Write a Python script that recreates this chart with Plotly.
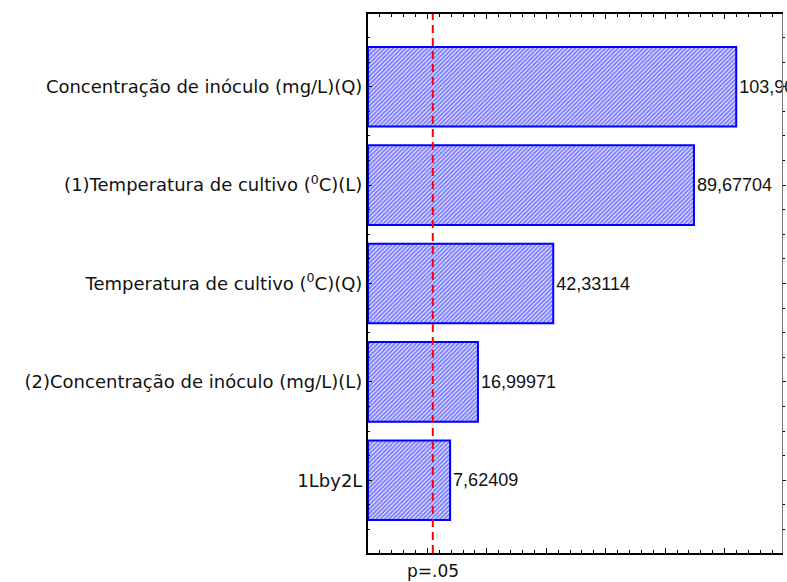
import plotly.graph_objects as go

# Pareto chart of standardized effects (absolute t values)
effects = [
    "Concentração de inóculo (mg/L)(Q)",
    "(1)Temperatura de cultivo (<sup>0</sup>C)(L)",
    "Temperatura de cultivo (<sup>0</sup>C)(Q)",
    "(2)Concentração de inóculo (mg/L)(L)",
    "1Lby2L",
]
t_values = [103.9, 89.67704, 42.33114, 16.99971, 7.62409]
t_crit = 1.8          # p = .05 significance threshold
p_label = "p=.05"

x_min, x_max = -20, 119.3   # effect axis; bars grow from its left edge

positions = list(range(len(effects)))
labels = [f"{v:.5f}".replace(".", ",") for v in t_values]

LABEL_FONT = "DejaVu Sans, sans-serif"
VALUE_FONT = "Liberation Sans, Arial, sans-serif"

fig = go.Figure()
fig.add_trace(go.Bar(
    x=[v - x_min for v in t_values],
    base=x_min,
    y=positions,
    orientation="h",
    width=0.81,
    marker=dict(
        color="white",
        line=dict(color="#0000ff", width=2),
        pattern=dict(shape="/", fgcolor="#0000ff", bgcolor="white",
                     size=3, solidity=0.7),
    ),
    text=labels,
    textposition="outside",
    textfont=dict(family=VALUE_FONT, size=18, color="#111111"),
    cliponaxis=False,
    showlegend=False,
))

# invisible companion trace so the right-hand axis is drawn
fig.add_trace(go.Scatter(x=[None], y=[None], yaxis="y2", showlegend=False,
                         hoverinfo="skip"))

y_range = [len(effects) - 1 + 0.74, -0.74]
minor_y = [p + d for p in positions for d in (-0.5, -0.25, 0.25, 0.5)]

fig.update_layout(
    width=787, height=582,
    margin=dict(l=368, r=2, t=14, b=29),
    paper_bgcolor="white",
    plot_bgcolor="white",
    font=dict(family=LABEL_FONT, size=18, color="#111111"),
    xaxis=dict(
        range=[x_min, x_max],
        showgrid=False, zeroline=False,
        showline=True, linecolor="black", linewidth=2,
        mirror="ticks",
        ticks="inside", tickmode="linear", tick0=0, dtick=20,
        ticklen=5, tickwidth=1, tickcolor="black",
        minor=dict(ticks="inside", tickmode="linear", tick0=0, dtick=4,
                   ticklen=3, tickwidth=1, tickcolor="black", showgrid=False),
        showticklabels=False,
    ),
    yaxis=dict(
        range=y_range,
        showgrid=False, zeroline=False,
        showline=True, linecolor="black", linewidth=2,
        ticks="inside", tickmode="array", tickvals=positions, ticktext=effects,
        ticklen=4, tickwidth=1, tickcolor="black",
        minor=dict(ticks="inside", tickmode="array", tickvals=minor_y,
                   ticklen=2, tickwidth=1, tickcolor="black", showgrid=False),
        tickfont=dict(family=LABEL_FONT, size=18, color="#111111"),
    ),
    yaxis2=dict(
        overlaying="y", side="right", range=y_range,
        showgrid=False, zeroline=False,
        showline=True, linecolor="#777777", linewidth=1,
        ticks="outside", tickmode="array", tickvals=positions,
        ticklen=3, tickwidth=1, tickcolor="black",
        minor=dict(ticks="outside", tickmode="array", tickvals=minor_y,
                   ticklen=2, tickwidth=1, tickcolor="black", showgrid=False),
        showticklabels=False,
    ),
    shapes=[dict(
        type="line", xref="x", yref="paper",
        x0=t_crit, x1=t_crit, y0=0, y1=1,
        line=dict(color="#ff0000", width=2, dash="8px,5px"),
    )],
    annotations=[dict(
        x=t_crit, y=0, xref="x", yref="paper",
        text=p_label, showarrow=False,
        xanchor="center", yanchor="top", yshift=-6,
        font=dict(family=LABEL_FONT, size=17, color="#111111"),
    )],
)

fig.write_html("out.html")
